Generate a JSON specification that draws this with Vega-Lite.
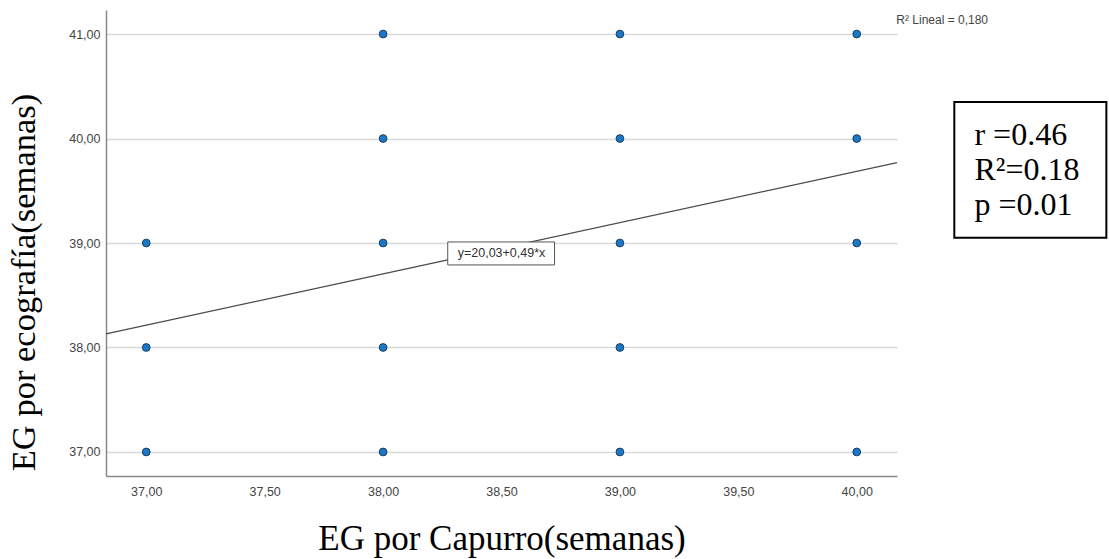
{
  "$schema": "https://vega.github.io/schema/vega-lite/v6.json",
  "width": 791,
  "height": 466,
  "autosize": "none",
  "padding": {"left": 106, "top": 10, "right": 212, "bottom": 83},
  "background": "white",
  "config": {"view": {"stroke": null}},
  "datasets": {
    "points": [
      {"capurro": 37, "eco": 37}, {"capurro": 37, "eco": 38}, {"capurro": 37, "eco": 39},
      {"capurro": 38, "eco": 37}, {"capurro": 38, "eco": 38}, {"capurro": 38, "eco": 39}, {"capurro": 38, "eco": 40}, {"capurro": 38, "eco": 41},
      {"capurro": 39, "eco": 37}, {"capurro": 39, "eco": 38}, {"capurro": 39, "eco": 39}, {"capurro": 39, "eco": 40}, {"capurro": 39, "eco": 41},
      {"capurro": 40, "eco": 37}, {"capurro": 40, "eco": 39}, {"capurro": 40, "eco": 40}, {"capurro": 40, "eco": 41}
    ],
    "fit": [{"capurro": 36.83, "eco": 38.13}, {"capurro": 40.17, "eco": 39.77}],
    "eqbox": [{"x1": 38.273, "x2": 38.724, "y1": 39.01, "y2": 38.79, "label": "y=20,03+0,49*x", "cx": 38.5, "cy": 38.9}],
    "r2": [{"x": 40.167, "y": 41.096, "label": "R² Lineal = 0,180"}],
    "statsbox": [{"x1": 40.412, "x2": 41.054, "y1": 40.35, "y2": 39.05}],
    "stats": [
      {"x": 40.497, "y": 39.938, "label": "r =0.46"},
      {"x": 40.497, "y": 39.603, "label": "R²=0.18"},
      {"x": 40.497, "y": 39.268, "label": "p =0.01"}
    ]
  },
  "layer": [
    {
      "data": {"name": "fit"},
      "mark": {"type": "line", "color": "#4a4a4a", "strokeWidth": 1.3},
      "encoding": {
        "x": {
          "field": "capurro", "type": "quantitative",
          "scale": {"domain": [36.83, 40.17], "nice": false, "zero": false},
          "axis": {
            "values": [37, 37.5, 38, 38.5, 39, 39.5, 40],
            "labelExpr": "replace(format(datum.value, '.2f'), '.', ',')",
            "ticks": false, "grid": false,
            "domainColor": "#8a8a8a", "domainWidth": 1.5,
            "labelFont": "Liberation Sans", "labelFontSize": 12.5, "labelColor": "#444444", "labelPadding": 9,
            "title": "EG por Capurro(semanas)",
            "titleFont": "Liberation Serif", "titleFontSize": 35, "titleFontWeight": "normal", "titleColor": "#000000",
            "titlePadding": 24
          }
        },
        "y": {
          "field": "eco", "type": "quantitative",
          "scale": {"domain": [36.77, 41.23], "nice": false, "zero": false},
          "axis": {
            "values": [37, 38, 39, 40, 41],
            "labelExpr": "replace(format(datum.value, '.2f'), '.', ',')",
            "ticks": false, "grid": true, "gridColor": "#d9d9d9", "gridWidth": 1.5,
            "domainColor": "#8a8a8a", "domainWidth": 1.5,
            "labelFont": "Liberation Sans", "labelFontSize": 12.5, "labelColor": "#444444", "labelPadding": 6,
            "title": "EG por ecografía(semanas)",
            "titleFont": "Liberation Serif", "titleFontSize": 34.5, "titleFontWeight": "normal", "titleColor": "#000000",
            "titlePadding": 27, "titleY": 272
          }
        }
      }
    },
    {
      "data": {"name": "points"},
      "mark": {"type": "point", "filled": true, "fill": "#1a78c8", "stroke": "#1d3d5c", "strokeWidth": 1, "opacity": 1, "size": 60},
      "encoding": {
        "x": {"field": "capurro", "type": "quantitative"},
        "y": {"field": "eco", "type": "quantitative"}
      }
    },
    {
      "data": {"name": "eqbox"},
      "mark": {"type": "rect", "fill": "white", "stroke": "#555555", "strokeWidth": 1},
      "encoding": {
        "x": {"field": "x1", "type": "quantitative"},
        "x2": {"field": "x2"},
        "y": {"field": "y1", "type": "quantitative"},
        "y2": {"field": "y2"}
      }
    },
    {
      "data": {"name": "eqbox"},
      "mark": {"type": "text", "font": "Liberation Sans", "fontSize": 12.5, "color": "#333333", "align": "center", "baseline": "middle"},
      "encoding": {
        "x": {"field": "cx", "type": "quantitative"},
        "y": {"field": "cy", "type": "quantitative"},
        "text": {"field": "label"}
      }
    },
    {
      "data": {"name": "r2"},
      "mark": {"type": "text", "font": "Liberation Sans", "fontSize": 12, "color": "#444444", "align": "left", "baseline": "alphabetic"},
      "encoding": {
        "x": {"field": "x", "type": "quantitative"},
        "y": {"field": "y", "type": "quantitative"},
        "text": {"field": "label"}
      }
    },
    {
      "data": {"name": "statsbox"},
      "mark": {"type": "rect", "fill": "white", "stroke": "#000000", "strokeWidth": 2},
      "encoding": {
        "x": {"field": "x1", "type": "quantitative"},
        "x2": {"field": "x2"},
        "y": {"field": "y1", "type": "quantitative"},
        "y2": {"field": "y2"}
      }
    },
    {
      "data": {"name": "stats"},
      "mark": {"type": "text", "font": "Liberation Serif", "fontSize": 32, "color": "#000000", "align": "left", "baseline": "alphabetic"},
      "encoding": {
        "x": {"field": "x", "type": "quantitative"},
        "y": {"field": "y", "type": "quantitative"},
        "text": {"field": "label"}
      }
    }
  ]
}
